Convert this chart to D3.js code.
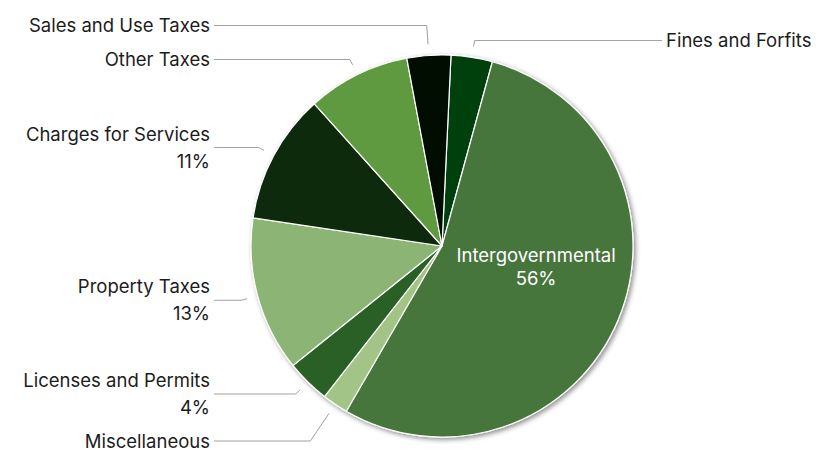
<!DOCTYPE html>
<html><head><meta charset="utf-8">
<script src="https://cdn.jsdelivr.net/npm/d3@7"></script>
<style>body{margin:0;background:#fff} svg{display:block}</style>
</head><body><svg id="c" width="824" height="454"></svg>
<script>
// Data (clockwise from just right of 12 o'clock)
const categories = ["Fines and Forfits","Intergovernmental","Miscellaneous","Licenses and Permits","Property Taxes","Charges for Services","Other Taxes","Sales and Use Taxes"];
const values = [3.5, 54.1, 2.2, 3.7, 13.1, 11.0, 8.7, 3.7];
const shareLabels = ["", "56%", "", "4%", "13%", "11%", "", ""];
const colors = ["#01410f","#46763c","#a2c486","#2c5e27","#8cb474","#11290f","#5e9a40","#010d06"];
const insideLabel = [false, true, false, false, false, false, false, false];

const W = 824, H = 454, cx = 442, cy = 246, r = 191;
const FONT = "Inter, Lato, sans-serif", FS = 18.5;
const svg = d3.select("#c");

const defs = svg.append("defs");
const f = defs.append("filter").attr("id","sh").attr("x","-20%").attr("y","-20%").attr("width","140%").attr("height","140%");
f.append("feDropShadow").attr("dx",2).attr("dy",2).attr("stdDeviation",2.5).attr("flood-color","#000").attr("flood-opacity",0.45);

const data = categories.map((c,i)=>({name:c, v:values[i], share:shareLabels[i], color:colors[i], inside:insideLabel[i]}));
const a0 = 2.7*Math.PI/180;
const pie = d3.pie().sort(null).value(d=>d.v).startAngle(a0).endAngle(a0+2*Math.PI);
const arcs = pie(data);
const arc = d3.arc().innerRadius(0).outerRadius(r);

const g = svg.append("g").attr("transform",`translate(${cx},${cy})`);
g.append("g").attr("filter","url(#sh)")
  .selectAll("path").data(arcs).join("path")
  .attr("d",arc).attr("fill",d=>d.data.color)
  .attr("stroke","#fff").attr("stroke-width",1.2).attr("stroke-linejoin","round");

// Outside labels layout
const outside = arcs.filter(d=>!d.data.inside).map(d=>{
  const m = (d.startAngle+d.endAngle)/2;
  const lines = d.data.share ? 2 : 1;
  return {d, m, side: Math.sin(m) < 0 ? "left" : "right", lines, half: lines===2?26:13,
          y: cy - (r+17)*Math.cos(m)};
});
const gap = 8;
["left","right"].forEach(side=>{
  const items = outside.filter(o=>o.side===side);
  const top = items.filter(o=>o.y<cy).sort((a,b)=>b.y-a.y);
  for(let i=1;i<top.length;i++) top[i].y = Math.min(top[i].y, top[i-1].y-(top[i-1].half+top[i].half+gap));
  const bot = items.filter(o=>o.y>=cy).sort((a,b)=>a.y-b.y);
  for(let i=1;i<bot.length;i++) bot[i].y = Math.max(bot[i].y, bot[i-1].y+(bot[i-1].half+bot[i].half+gap));
});

const lab = svg.append("g");
outside.forEach(o=>{
  const left = o.side==="left";
  const tx = left ? cx - r - 41 : cx + r + 33;
  const ls = left ? tx + 4 : tx - 4;
  const ax = cx + (r+11)*Math.sin(o.m), ay = cy - (r+11)*Math.cos(o.m);
  const crookX = cx + (cy - o.y)*Math.tan(o.m);
  const pts = [[ls,o.y]];
  if (left ? (crookX>=ls && crookX<=ax) : (crookX<=ls && crookX>=ax)) pts.push([crookX,o.y]);
  pts.push([ax,ay]);
  lab.append("path").attr("d", d3.line()(pts)).attr("fill","none").attr("stroke","#a0a0a0").attr("stroke-width",1);
  const t = lab.append("text").attr("x",tx).attr("text-anchor", left?"end":"start")
    .attr("font-family",FONT).attr("font-size",FS).attr("fill","#1c1c1c");
  if (o.lines===2){
    t.append("tspan").attr("x",tx).attr("y",o.y-13.5).attr("dy","0.36em").text(o.d.data.name);
    t.append("tspan").attr("x",tx).attr("y",o.y+13.5).attr("dy","0.36em").text(o.d.data.share);
  } else {
    t.append("tspan").attr("x",tx).attr("y",o.y).attr("dy","0.36em").text(o.d.data.name);
  }
});

// Inside label
arcs.filter(d=>d.data.inside).forEach(d=>{
  const m = (d.startAngle+d.endAngle)/2, dd = 102;
  const x = cx + dd*Math.sin(m), y = cy - dd*Math.cos(m);
  const t = svg.append("text").attr("text-anchor","middle").attr("font-family",FONT).attr("font-size",FS).attr("fill","#fff");
  t.append("tspan").attr("x",x).attr("y",y-23).text(d.data.name);
  t.append("tspan").attr("x",x).attr("y",y).text(d.data.share);
});
</script></body></html>
